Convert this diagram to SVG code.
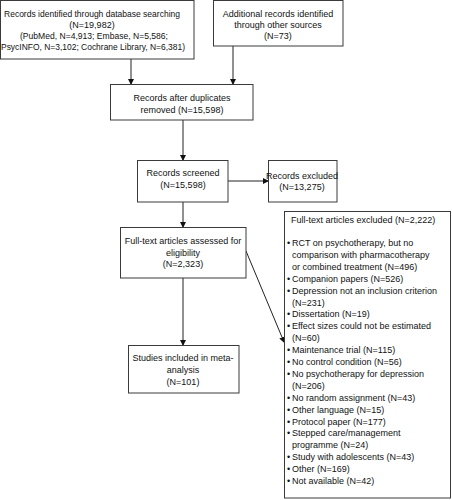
<svg xmlns="http://www.w3.org/2000/svg" width="452" height="500" viewBox="0 0 452 500">
<style>
.box{fill:#fff;stroke:#3a3a3a;stroke-width:1}
text{font-family:"Liberation Sans",Arial,sans-serif;font-size:9px;fill:#111}
.c{text-anchor:middle}
.ln{stroke:#222;stroke-width:1;fill:none}
</style>
<defs>
<marker id="ah" markerWidth="6" markerHeight="6" refX="5" refY="3" orient="auto" markerUnits="userSpaceOnUse">
<path d="M0,0 L6,3 L0,6 z" fill="#111"/>
</marker>
</defs>
<rect width="452" height="500" fill="#fff"/>
<g id="connectors">
<line class="ln" x1="131" y1="59" x2="131" y2="84" marker-end="url(#ah)"/>
<line class="ln" x1="233" y1="46" x2="233" y2="84" marker-end="url(#ah)"/>
<line class="ln" x1="183" y1="120" x2="183" y2="160" marker-end="url(#ah)"/>
<line class="ln" x1="228" y1="181" x2="268" y2="181" marker-end="url(#ah)"/>
<line class="ln" x1="183" y1="202" x2="183" y2="227" marker-end="url(#ah)"/>
<line class="ln" x1="183" y1="278" x2="183" y2="345" marker-end="url(#ah)"/>
<line class="ln" x1="246" y1="251" x2="284" y2="342" marker-end="url(#ah)"/>
</g>
<g id="db-search">
<rect class="box" x="0.5" y="0.5" width="193.5" height="58.5"/>
<text class="c" x="92" y="17" textLength="176" lengthAdjust="spacingAndGlyphs">Records identified through database searching</text>
<text class="c" x="92" y="28">(N=19,982)</text>
<text class="c" x="94" y="39" textLength="148" lengthAdjust="spacingAndGlyphs">(PubMed, N=4,913; Embase, N=5,586;</text>
<text class="c" x="93" y="50" textLength="184" lengthAdjust="spacingAndGlyphs">PsycINFO, N=3,102; Cochrane Library, N=6,381)</text>
</g>
<g id="other-sources">
<rect class="box" x="213.5" y="0.5" width="129.5" height="45.5"/>
<text class="c" x="278" y="17">Additional records identified</text>
<text class="c" x="278" y="28">through other sources</text>
<text class="c" x="278" y="39">(N=73)</text>
</g>
<g id="after-duplicates">
<rect class="box" x="110.5" y="84.5" width="142.5" height="35.5"/>
<text class="c" x="182" y="101">Records after duplicates</text>
<text class="c" x="182" y="113">removed (N=15,598)</text>
</g>
<g id="screened">
<rect class="box" x="137.5" y="160.5" width="90.5" height="41.5"/>
<text class="c" x="183" y="176">Records screened</text>
<text class="c" x="183" y="188">(N=15,598)</text>
</g>
<g id="excluded">
<rect class="box" x="268.5" y="160.5" width="68.5" height="41.5"/>
<text class="c" x="302" y="179">Records excluded</text>
<text class="c" x="302" y="190">(N=13,275)</text>
</g>
<g id="assessed">
<rect class="box" x="120.5" y="227.5" width="125.5" height="50.5"/>
<text class="c" x="183" y="244">Full-text articles assessed for</text>
<text class="c" x="183" y="256">eligibility</text>
<text class="c" x="183" y="267">(N=2,323)</text>
</g>
<g id="included">
<rect class="box" x="128.5" y="345.5" width="110.5" height="47.5"/>
<text class="c" x="183" y="361">Studies included in meta-</text>
<text class="c" x="183" y="373">analysis</text>
<text class="c" x="183" y="385">(N=101)</text>
</g>
<g id="fulltext-excluded">
<rect class="box" x="284.5" y="211.5" width="166" height="286.5"/>
<text x="291" y="223">Full-text articles excluded (N=2,222)</text>
<text x="287" y="246">•</text><text x="292" y="246">RCT on psychotherapy, but no</text>
<text x="292" y="257.9">comparison with pharmacotherapy</text>
<text x="292" y="269.8">or combined treatment (N=496)</text>
<text x="287" y="281.7">•</text><text x="292" y="281.7">Companion papers (N=526)</text>
<text x="287" y="293.6">•</text><text x="292" y="293.6">Depression not an inclusion criterion</text>
<text x="292" y="305.5">(N=231)</text>
<text x="287" y="317.4">•</text><text x="292" y="317.4">Dissertation (N=19)</text>
<text x="287" y="329.3">•</text><text x="292" y="329.3">Effect sizes could not be estimated</text>
<text x="292" y="341.2">(N=60)</text>
<text x="287" y="353.1">•</text><text x="292" y="353.1">Maintenance trial (N=115)</text>
<text x="287" y="365">•</text><text x="292" y="365">No control condition (N=56)</text>
<text x="287" y="376.9">•</text><text x="292" y="376.9">No psychotherapy for depression</text>
<text x="292" y="388.8">(N=206)</text>
<text x="287" y="400.7">•</text><text x="292" y="400.7">No random assignment (N=43)</text>
<text x="287" y="412.6">•</text><text x="292" y="412.6">Other language (N=15)</text>
<text x="287" y="424.5">•</text><text x="292" y="424.5">Protocol paper (N=177)</text>
<text x="287" y="436.4">•</text><text x="292" y="436.4">Stepped care/management</text>
<text x="292" y="448.3">programme (N=24)</text>
<text x="287" y="460.2">•</text><text x="292" y="460.2">Study with adolescents (N=43)</text>
<text x="287" y="472.1">•</text><text x="292" y="472.1">Other (N=169)</text>
<text x="287" y="484">•</text><text x="292" y="484">Not available (N=42)</text>
</g>
</svg>
